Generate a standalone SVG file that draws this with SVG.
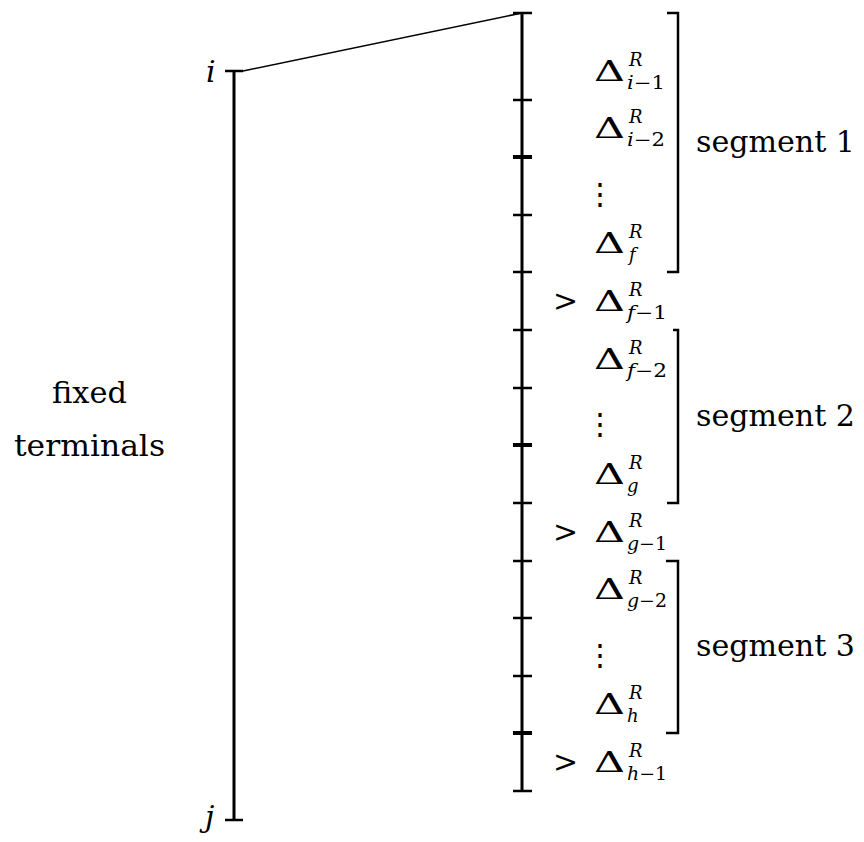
<svg xmlns="http://www.w3.org/2000/svg" width="864" height="842" viewBox="0 0 864 842">
<style>
text{font-family:'DejaVu Serif','Liberation Serif',serif;fill:#000}
.big{font-size:30px}
.dl{font-size:28px}
.sm{font-size:18px}
.it{font-style:italic}
.bar{stroke:#000;stroke-width:3;fill:none}
.tick{stroke:#000;stroke-width:2.5;fill:none}
.tk2{stroke:#000;stroke-width:4;fill:none}
.brk{stroke:#000;stroke-width:2.5;fill:none}
.thin{stroke:#000;stroke-width:1.6;fill:none}
</style>
<rect width="864" height="842" fill="#fff"/>
<g id="fixed-terminals">
<path class="bar" d="M234,71 V820"/>
<path class="tick" d="M225,71 H243 M225,820 H243"/>
<text class="big it" x="206" y="82">i</text>
<text class="big it" x="205" y="827">j</text>
<text class="big" x="89.5" y="403" text-anchor="middle" textLength="75" lengthAdjust="spacingAndGlyphs">fixed</text>
<text class="big" x="89.5" y="456" text-anchor="middle" textLength="151" lengthAdjust="spacingAndGlyphs">terminals</text>
</g>
<g id="connectors">
<path class="thin" d="M243,71 L522,13"/>
</g>
<g id="scale">
<path class="bar" d="M522,13 V791"/>
<path class="tick" d="M513,13 H532 M513,100 H532 M513,215 H532 M513,272 H532 M513,330 H532 M513,388 H532 M513,503 H532 M513,561 H532 M513,618 H532 M513,676 H532 M513,791 H532"/>
<path class="tk2" d="M513,157 H532 M513,445 H532 M513,733 H532"/>
</g>
<g id="segment1">
<path class="brk" d="M667,13 H678 V272 H667"/>
<text class="big" x="696" y="152" textLength="159" lengthAdjust="spacingAndGlyphs">segment 1</text>
<text class="dl" x="594" y="81" textLength="31" lengthAdjust="spacingAndGlyphs">Δ</text>
<text class="sm it" x="629" y="66">R</text>
<text class="sm" x="627" y="89" textLength="38" lengthAdjust="spacingAndGlyphs"><tspan class="it">i</tspan>−1</text>
<text class="dl" x="594" y="138" textLength="31" lengthAdjust="spacingAndGlyphs">Δ</text>
<text class="sm it" x="629" y="123">R</text>
<text class="sm" x="627" y="146" textLength="38" lengthAdjust="spacingAndGlyphs"><tspan class="it">i</tspan>−2</text>
<text class="big" x="600" y="204" text-anchor="middle">⋮</text>
<text class="dl" x="594" y="253" textLength="31" lengthAdjust="spacingAndGlyphs">Δ</text>
<text class="sm it" x="629" y="238">R</text>
<text class="sm it" x="629" y="261">f</text>
</g>
<g id="row-f-1">
<text class="big" x="553" y="311">&gt;</text>
<text class="dl" x="594" y="311" textLength="31" lengthAdjust="spacingAndGlyphs">Δ</text>
<text class="sm it" x="629" y="296">R</text>
<text class="sm" x="627" y="319" textLength="40" lengthAdjust="spacingAndGlyphs"><tspan class="it">f</tspan>−1</text>
</g>
<g id="segment2">
<path class="brk" d="M673,330 H678 V503 H667"/>
<text class="big" x="696" y="426" textLength="159" lengthAdjust="spacingAndGlyphs">segment 2</text>
<text class="dl" x="594" y="369" textLength="31" lengthAdjust="spacingAndGlyphs">Δ</text>
<text class="sm it" x="629" y="354">R</text>
<text class="sm" x="627" y="377" textLength="40" lengthAdjust="spacingAndGlyphs"><tspan class="it">f</tspan>−2</text>
<text class="big" x="600" y="434" text-anchor="middle">⋮</text>
<text class="dl" x="594" y="484" textLength="31" lengthAdjust="spacingAndGlyphs">Δ</text>
<text class="sm it" x="629" y="469">R</text>
<text class="sm it" x="627" y="492">g</text>
</g>
<g id="row-g-1">
<text class="big" x="553" y="542">&gt;</text>
<text class="dl" x="594" y="542" textLength="31" lengthAdjust="spacingAndGlyphs">Δ</text>
<text class="sm it" x="629" y="527">R</text>
<text class="sm" x="627" y="550" textLength="40" lengthAdjust="spacingAndGlyphs"><tspan class="it">g</tspan>−1</text>
</g>
<g id="segment3">
<path class="brk" d="M666,561 H678 V733 H666"/>
<text class="big" x="696" y="656" textLength="159" lengthAdjust="spacingAndGlyphs">segment 3</text>
<text class="dl" x="594" y="599" textLength="31" lengthAdjust="spacingAndGlyphs">Δ</text>
<text class="sm it" x="629" y="584">R</text>
<text class="sm" x="627" y="607" textLength="40" lengthAdjust="spacingAndGlyphs"><tspan class="it">g</tspan>−2</text>
<text class="big" x="600" y="665" text-anchor="middle">⋮</text>
<text class="dl" x="594" y="714" textLength="31" lengthAdjust="spacingAndGlyphs">Δ</text>
<text class="sm it" x="629" y="699">R</text>
<text class="sm it" x="627" y="722">h</text>
</g>
<g id="row-h-1">
<text class="big" x="553" y="772">&gt;</text>
<text class="dl" x="594" y="772" textLength="31" lengthAdjust="spacingAndGlyphs">Δ</text>
<text class="sm it" x="629" y="757">R</text>
<text class="sm" x="627" y="780" textLength="40" lengthAdjust="spacingAndGlyphs"><tspan class="it">h</tspan>−1</text>
</g>
</svg>
